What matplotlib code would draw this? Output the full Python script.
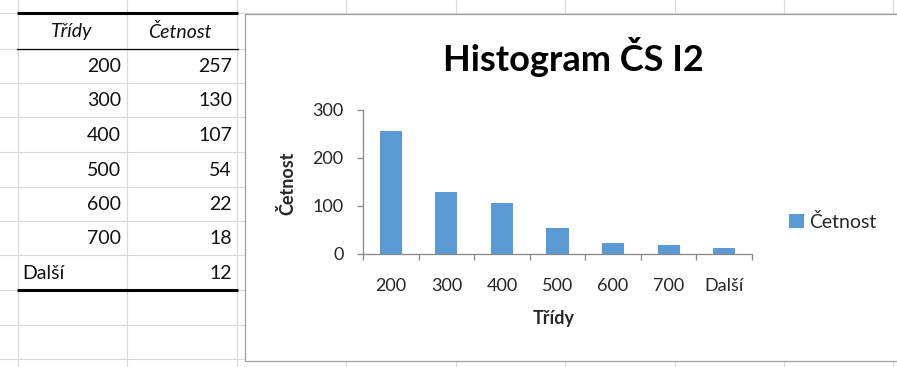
import matplotlib
matplotlib.use("Agg")
import matplotlib.pyplot as plt
import numpy as np
from matplotlib.patches import Rectangle

plt.rcParams['font.family'] = ['Lato', 'DejaVu Sans']

# data
classes = ['200', '300', '400', '500', '600', '700', 'Další']
counts = [257, 130, 107, 54, 22, 18, 12]
series_name = 'Četnost'
title = 'Histogram ČS I2'

W, H = 897, 367
fig = plt.figure(figsize=(W / 100, H / 100), dpi=100)

# spreadsheet background in pixel coordinates
bg = fig.add_axes([0, 0, 1, 1])
bg.set_xlim(0, W)
bg.set_ylim(H, 0)
bg.axis('off')

grid_x = [18, 127, 237, 346, 456, 565, 675, 784, 893]
grid_y = [13, 49, 83, 117, 152, 187, 221, 255, 290, 325, 359]
for x in grid_x:
    bg.plot([x, x], [0, H], color='#d9d9d9', lw=0.8, zorder=1)
for y in grid_y:
    bg.plot([0, W], [y, y], color='#d9d9d9', lw=0.8, zorder=1)

# table borders
bg.plot([17, 238], [13, 13], color='black', lw=2.2, zorder=2, solid_capstyle='butt')
bg.plot([17, 238], [49, 49], color='black', lw=0.9, zorder=2)
bg.plot([17, 238], [290, 290], color='black', lw=2.2, zorder=2, solid_capstyle='butt')

# table text
tfs = 14
tcol = '#111111'
bg.text(72, 32, 'Třídy', style='italic', ha='center', va='center', fontsize=tfs, color=tcol, zorder=3)
bg.text(180, 32, 'Četnost', style='italic', ha='center', va='center', fontsize=tfs, color=tcol, zorder=3)
for i, (c, n) in enumerate(zip(classes, counts)):
    yc = (grid_y[i + 1] + grid_y[i + 2]) / 2 + 1
    if c.isdigit():
        bg.text(121, yc, c, ha='right', va='center', fontsize=tfs, color=tcol, zorder=3)
    else:
        bg.text(22, yc, c, ha='left', va='center', fontsize=tfs, color=tcol, zorder=3)
    bg.text(232, yc, str(n), ha='right', va='center', fontsize=tfs, color=tcol, zorder=3)

# chart frame
bg.add_patch(Rectangle((245, 14), 660, 347, facecolor='white',
                       edgecolor='#a0a0a0', lw=0.9, zorder=4))

# chart
ax = fig.add_axes([363 / W, 113 / H, 389 / W, 144 / H])
ax.patch.set_alpha(0)
ax.bar(np.arange(len(classes)), counts, width=0.4, color='#5B9BD5', label=series_name)
ax.set_xlim(-0.5, len(classes) - 0.5)
ax.set_ylim(0, 300)
ax.set_yticks([0, 100, 200, 300])
ax.set_xticks(np.arange(len(classes)))
ax.set_xticklabels(classes)
ax.set_xticks(np.arange(-0.5, len(classes), 1), minor=True)

axis_col = '#868686'
lab_col = '#262626'
for s in ['top', 'right']:
    ax.spines[s].set_visible(False)
for s in ['left', 'bottom']:
    ax.spines[s].set_color(axis_col)
    ax.spines[s].set_linewidth(0.9)

ax.tick_params(axis='x', which='major', length=0, pad=17, labelsize=13, labelcolor=lab_col)
ax.tick_params(axis='x', which='minor', length=4, width=0.9, color=axis_col, direction='out')
ax.tick_params(axis='y', length=4, width=0.9, color=axis_col, pad=10, labelsize=13, labelcolor=lab_col)

ax.set_xlabel('Třídy', fontsize=13, fontweight='bold', color=lab_col)
ax.xaxis.set_label_coords(0.49, -0.39)
ax.set_ylabel('Četnost', fontsize=13, fontweight='bold', color=lab_col)
ax.yaxis.set_label_coords(-0.17, 0.49)

fig.text(573 / W, 1 - 57 / H, title, ha='center', va='center',
         fontsize=26, fontweight='bold', color='black')

fig.legend(loc='center left', bbox_to_anchor=(789 / W, 1 - 222 / H), frameon=False,
           borderpad=0, borderaxespad=0, handlelength=0.75, handleheight=0.75,
           handletextpad=0.3, fontsize=14, labelcolor=lab_col)

fig.savefig('out.png', dpi=100)
